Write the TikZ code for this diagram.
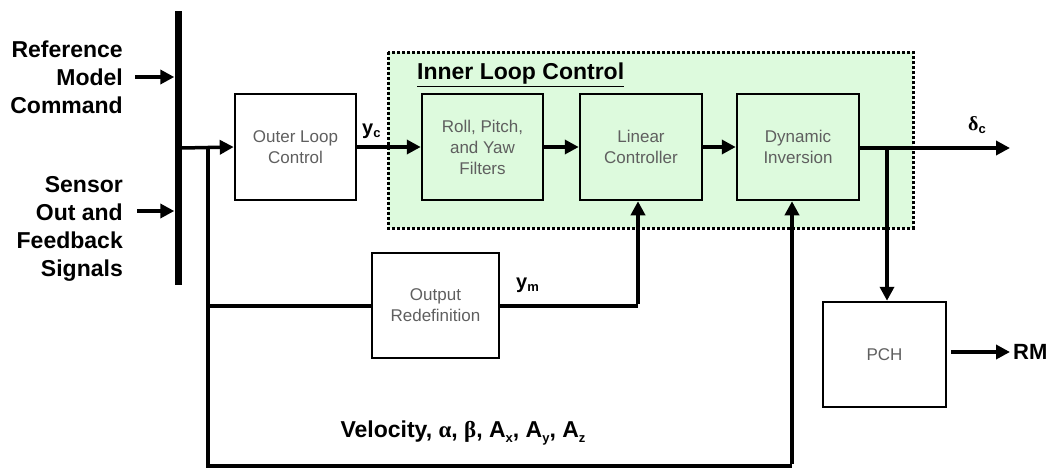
\documentclass[tikz,border=0pt]{standalone}
\usepackage{fontspec}
\setmainfont{Liberation Sans}
\newfontfamily\serifg{Liberation Serif}
\usetikzlibrary{arrows.meta}
\definecolor{mint}{RGB}{221,250,221}
\definecolor{boxtext}{RGB}{95,95,95}
\newcommand\lowsub[1]{\raisebox{-0.35ex}{\fontsize{13}{13}\selectfont #1}}
\begin{document}
\begin{tikzpicture}[x=1pt,y=-1pt,
  blk/.style={draw=black, line width=2.5pt, minimum width=121, minimum height=106,
    align=center, inner sep=0pt, text=boxtext, font=\fontsize{17}{21}\selectfont},
  inblk/.style={blk, fill=mint},
  lbl/.style={font=\fontsize{23}{28}\selectfont\bfseries, align=right, inner sep=0pt},
  sig/.style={font=\fontsize{20}{22}\selectfont\bfseries, inner sep=0pt},
  arr/.style={line width=3.5pt, -{Triangle[length=14pt,width=14pt]}},
  wire/.style={line width=3.5pt},
]
\useasboundingbox (0,0) rectangle (1052,469);

% inner loop region
\draw[fill=mint, line width=3pt, dash pattern=on 3pt off 2pt] (388,52) rectangle (913,228);
\node[anchor=west, inner sep=0pt, font=\fontsize{23}{26}\selectfont\bfseries] (ilc) at (417,75) {\underline{Inner Loop Control}};

% bar
\node[fill=black, minimum width=7, minimum height=274, inner sep=0pt] (bar) at (178,148) {};

% left labels
\node[lbl, anchor=east] (ref) at (123,77) {Reference\\Model\\Command};
\node[lbl, anchor=east] (sens) at (123,229) {Sensor\\Out and\\Feedback\\Signals};
\coordinate (refin) at (135,77);
\coordinate (sensin) at (137,211);
\draw[arr] (refin) -- (bar.west |- refin);
\draw[arr] (sensin) -- (bar.west |- sensin);

% blocks
\node[blk] (outer) at (295.5,147) {Outer Loop\\Control};
\node[inblk] (roll) at (482.5,147) {Roll, Pitch,\\and Yaw\\Filters};
\node[inblk, minimum width=122] (lin) at (641,147) {Linear\\Controller};
\node[inblk, minimum width=122] (dyn) at (798,147) {Dynamic\\Inversion};
\node[blk, minimum width=123, minimum height=105] (pch) at (884.5,354.5) {PCH};
\node[blk, minimum width=127, minimum height=105] (outred) at (435.5,305.5) {Output\\Redefinition};

% main path
\coordinate (split) at (208,148);
\draw[arr] (bar.east |- split) -- (outer.west);
\draw[arr] (outer.east) -- (roll.west);
\node[sig, anchor=west] (yc) at (362,131) {y\lowsub{c}};
\draw[arr] (roll.east) -- (lin.west);
\draw[arr] (lin.east) -- (dyn.west);
\coordinate (dout) at (1010,148);
\coordinate (pchsplit) at (887,148);
\draw[arr] (dyn.east |- dout) -- (dout);
\node[sig, anchor=west] (dc) at (968,125) {{\serifg δ}\lowsub{c}};
\draw[arr] (pchsplit) -- (pch.north -| pchsplit);
\coordinate (rmout) at (1010,352);
\draw[arr] ([xshift=4pt]pch.east |- rmout) -- (rmout);
\node[anchor=west, inner sep=0pt, font=\fontsize{22}{24}\selectfont\bfseries] (rm) at (1013,352) {RM};

% output redefinition path
\coordinate (ortap) at (208,306);
\coordinate (linin) at (638,306);
\draw[wire] (ortap) -- (outred.west |- ortap);
\draw[wire] (outred.east |- linin) -- (linin);
\draw[arr] ([yshift=1.75pt]linin) -- (lin.south -| linin);
\node[sig, anchor=west] (ym) at (516,285) {y\lowsub{m}};

% velocity feedback path
\coordinate (bl) at (208,466);
\coordinate (br) at (792,466);
\draw[wire, line join=miter] (split) -- (bl) -- (br);
\draw[arr] ([yshift=1.75pt]br) -- (dyn.south -| br);
\node[sig, font=\fontsize{23}{24}\selectfont\bfseries] (vel) at (463,433)
  {Velocity, {\serifg α}, {\serifg β}, A\lowsub{x}, A\lowsub{y}, A\lowsub{z}};
\end{tikzpicture}
\end{document}
